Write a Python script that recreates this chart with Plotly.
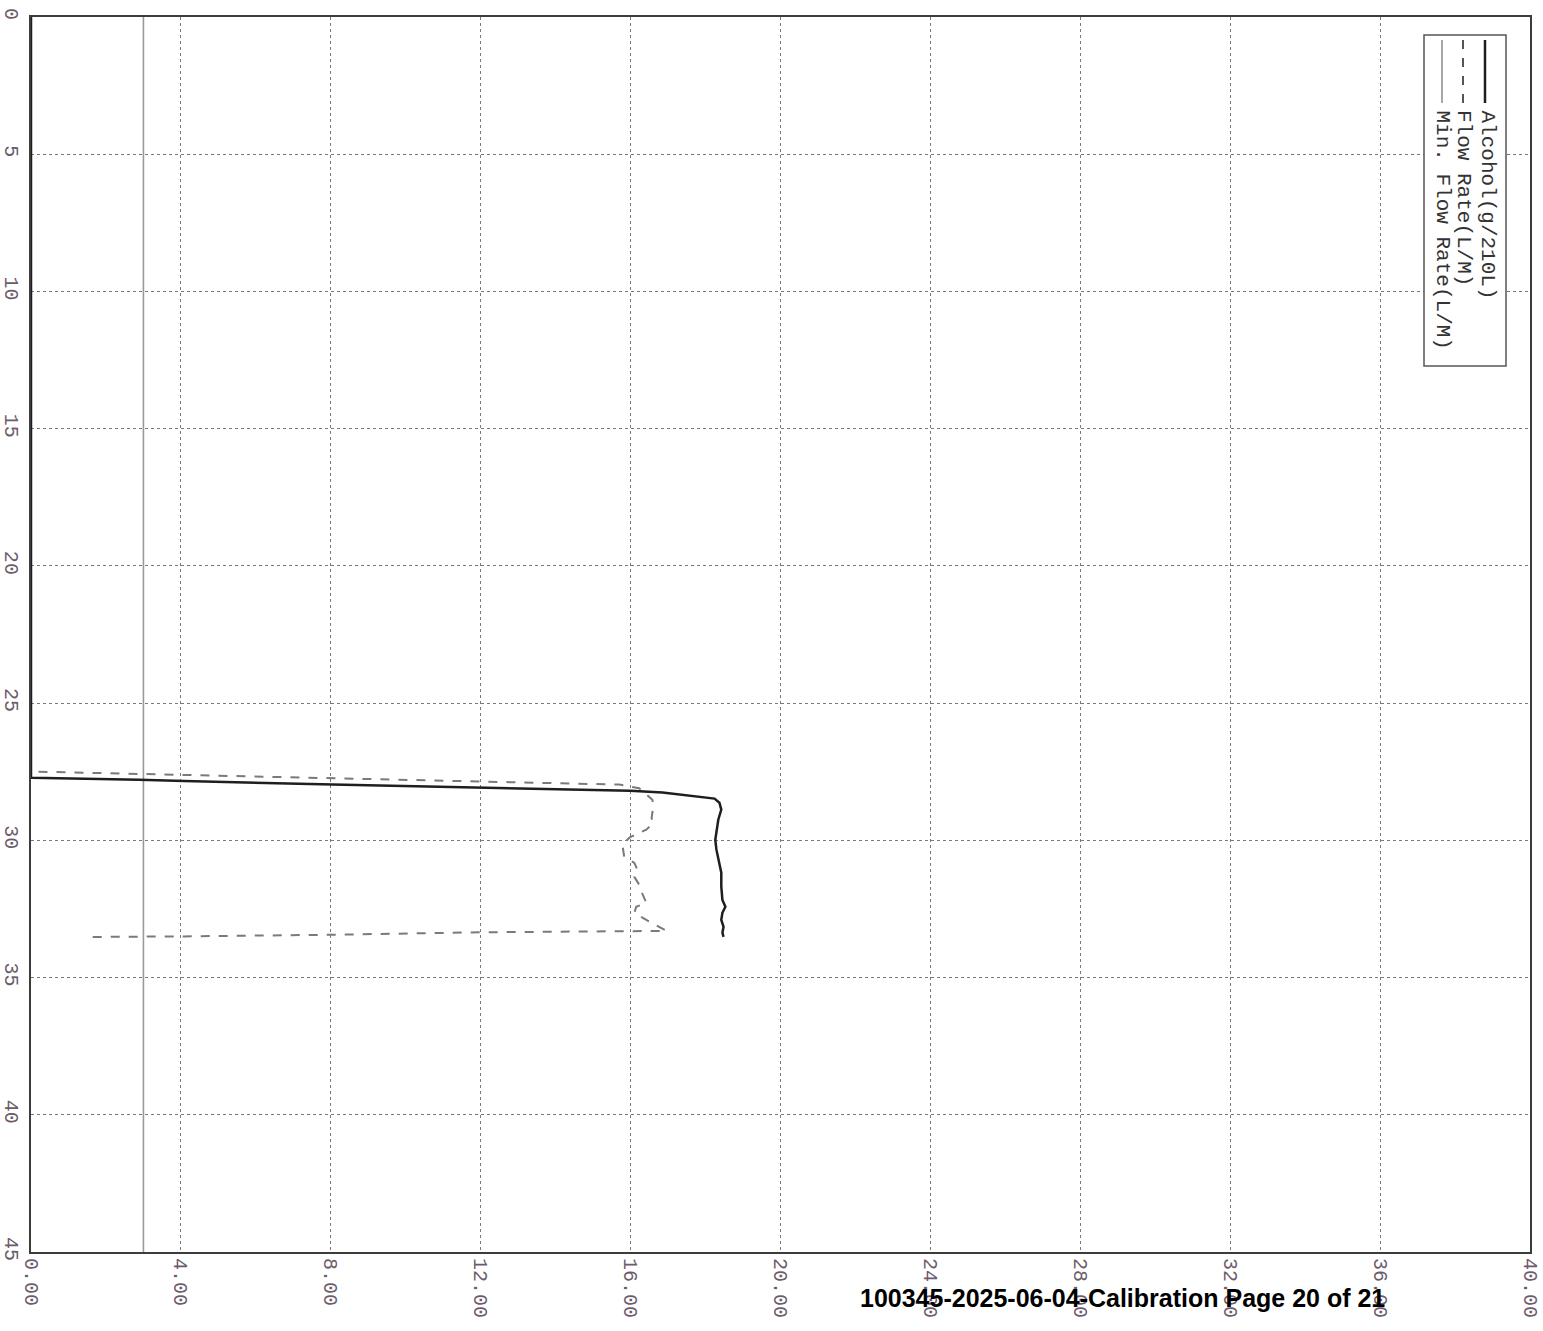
import plotly.graph_objects as go

# ---- data (value on horizontal axis, time on vertical axis, as in the rotated print) ----
alcohol_time = [0, 27.72, 27.79, 27.84, 27.97, 28.08, 28.19, 28.26, 28.37, 28.48, 28.63, 28.88, 29.25,
                29.72, 29.98, 30.34, 30.71, 31.18, 31.69, 32.17, 32.42, 32.64, 32.90, 33.15, 33.37, 33.52]
alcohol_val = [0, 0, 2.88, 4.09, 8.04, 11.99, 15.99, 16.85, 17.57, 18.24, 18.37, 18.42, 18.34,
               18.29, 18.26, 18.29, 18.34, 18.42, 18.42, 18.45, 18.53, 18.45, 18.42, 18.48, 18.45, 18.48]

flow_time = [27.5, 27.75, 27.97, 28.10, 28.52, 28.70, 29.20, 29.36, 29.61, 29.76, 29.90, 30.16, 30.60,
             30.82, 31.07, 31.33, 31.62, 31.87, 32.28, 32.42, 32.64, 32.90, 33.15, 33.30,
             33.35, 33.44, 33.50, 33.52]
flow_val = [0.2, 8.0, 15.7, 16.23, 16.58, 16.61, 16.56, 16.61, 16.42, 16.18, 15.97, 15.78, 15.83,
            16.10, 16.18, 16.10, 16.23, 16.29, 16.42, 16.15, 16.10, 16.42, 16.77, 16.96,
            12.0, 8.04, 4.09, 1.6]

min_flow_time = [0, 45]
min_flow_val = [3.0, 3.0]

x_ticks = [0, 4, 8, 12, 16, 20, 24, 28, 32, 36, 40]
y_ticks = [0, 5, 10, 15, 20, 25, 30, 35, 40, 45]

legend_labels = ["Alcohol(g/210L)", "Flow Rate(L/M)", "Min. Flow Rate(L/M)"]
footer_text = "100345-2025-06-04-Calibration Page 20 of 21"

W, H = 1543, 1331
L, R, T, B = 31, 13, 17, 79
PW, PH = W - L - R, H - T - B

def px(x):
    return (x - L) / PW

def py(y):
    return (H - B - y) / PH

fig = go.Figure()
fig.add_trace(go.Scatter(x=min_flow_val, y=min_flow_time, mode="lines",
                         line=dict(color="#9a9a9a", width=1.6), name=legend_labels[2]))
fig.add_trace(go.Scatter(x=flow_val, y=flow_time, mode="lines",
                         line=dict(color="#7a7a7a", width=2, dash="dash"), name=legend_labels[1]))
fig.add_trace(go.Scatter(x=alcohol_val, y=alcohol_time, mode="lines",
                         line=dict(color="#1e1e1e", width=2.5), name=legend_labels[0]))

tickfont = dict(family="Liberation Mono", size=20, color="#6b5b6b")
fig.update_xaxes(range=[0, 40], tickvals=x_ticks, ticktext=[f"{v:.2f}" for v in x_ticks],
                 tickangle=90, tickfont=tickfont, showgrid=True, gridcolor="#7a7a7a",
                 griddash="dot", gridwidth=1.3, showline=True, mirror=True, automargin=False,
                 linecolor="#3c3c3c", linewidth=2, zeroline=False, ticks="")
fig.update_yaxes(range=[45, 0], tickvals=y_ticks, ticktext=[str(v) for v in y_ticks],
                 tickangle=90, tickfont=tickfont, showgrid=True, gridcolor="#7a7a7a",
                 griddash="dot", gridwidth=1.3, showline=True, mirror=True, automargin=False,
                 linecolor="#3c3c3c", linewidth=2, zeroline=False, ticks="")

# ---- rotated legend box ----
shapes = [
    dict(type="rect", xref="paper", yref="paper", x0=px(1424), x1=px(1506), y0=py(366), y1=py(35),
         line=dict(color="#555555", width=1.5), fillcolor="white", layer="above"),
    dict(type="line", xref="paper", yref="paper", x0=px(1485), x1=px(1485), y0=py(40), y1=py(103),
         line=dict(color="#1e1e1e", width=2.5), layer="above"),
    dict(type="line", xref="paper", yref="paper", x0=px(1463), x1=px(1463), y0=py(40), y1=py(103),
         line=dict(color="#555555", width=2, dash="dash"), layer="above"),
    dict(type="line", xref="paper", yref="paper", x0=px(1442), x1=px(1442), y0=py(40), y1=py(103),
         line=dict(color="#8a8a8a", width=1.5), layer="above"),
]
ann = []
for xc, lab in zip([1487, 1464, 1442], legend_labels):
    ann.append(dict(x=px(xc), y=py(108), xref="paper", yref="paper", text=lab, showarrow=False,
                    textangle=90, xanchor="center", yanchor="top",
                    font=dict(family="Liberation Mono", size=21, color="#333333")))
ann.append(dict(x=px(1122), y=py(1298), xref="paper", yref="paper", text=f"<b>{footer_text}</b>",
                showarrow=False, xanchor="center", yanchor="middle",
                font=dict(family="Liberation Sans", size=25, color="#000000")))

fig.update_layout(width=W, height=H, margin=dict(l=L, r=R, t=T, b=B, autoexpand=False),
                  plot_bgcolor="white", paper_bgcolor="white", showlegend=False,
                  shapes=shapes, annotations=ann)
fig.write_html("out.html", config={"displayModeBar": False},
               post_script="document.body.style.margin='0';document.body.style.overflow='hidden';")
